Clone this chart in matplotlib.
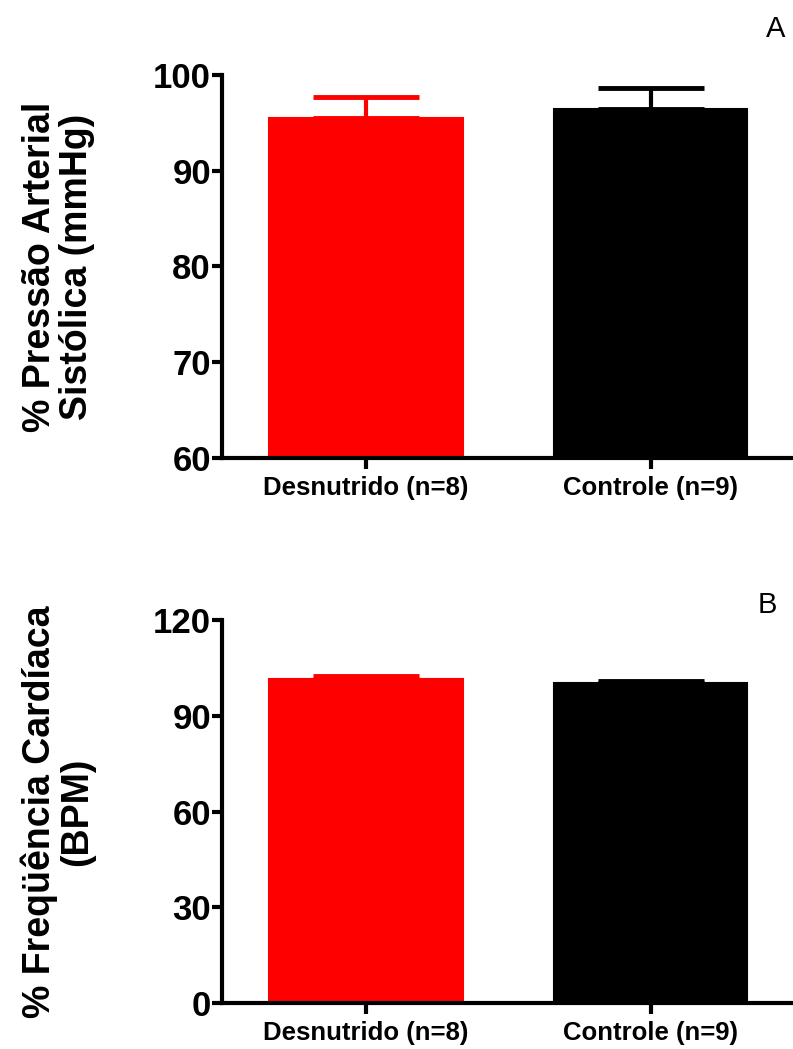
import matplotlib
matplotlib.use("Agg")
import matplotlib.pyplot as plt

plt.rcParams['font.family'] = ['Liberation Sans', 'DejaVu Sans']

groups = ['Desnutrido (n=8)', 'Controle (n=9)']
colors = ['#ff0000', '#000000']

pas_mean = [95.5, 96.5]
pas_sem = [2.2, 2.1]

fc_mean = [101.5, 100.3]
fc_sem = [1.0, 0.5]


def bar_panel(ax, means, sems, ylim, yticks, ylabel, letter):
    x = list(range(len(groups)))
    for i in x:
        ax.bar(i, means[i], width=0.68, color=colors[i], edgecolor=colors[i],
               linewidth=1.5, bottom=0, zorder=2)
        ax.errorbar(i, means[i], yerr=[[0], [sems[i]]], fmt='none',
                    ecolor=colors[i], elinewidth=3, capsize=38, capthick=3.5,
                    zorder=1)
    ax.set_xlim(-0.505, 1.5)
    ax.set_ylim(*ylim)
    ax.set_yticks(yticks)
    ax.set_xticks(x, groups)
    ax.tick_params(axis='y', labelsize=25, width=3, length=7, pad=1)
    ax.tick_params(axis='x', width=3, length=8, pad=5)
    for t in ax.get_yticklabels():
        t.set_fontweight('bold')
    for t in ax.get_xticklabels():
        t.set_fontweight('bold')
        t.set_fontsize(18.5)
    for s in ['top', 'right']:
        ax.spines[s].set_visible(False)
    for s in ['left', 'bottom']:
        ax.spines[s].set_linewidth(3)
    ax.set_ylabel(ylabel, fontsize=27, fontweight='bold', linespacing=1.05)
    ax.yaxis.set_label_coords(-0.222, 0.5)
    ax.text(0.97, 1.12, letter, transform=ax.transAxes, fontsize=21,
            ha='center', va='center')


fig = plt.figure(figsize=(7.93, 10.49), dpi=100)
axA = fig.add_axes([0.280, 0.5634, 0.72, 0.3651])
axB = fig.add_axes([0.280, 0.0438, 0.72, 0.3651])

bar_panel(axA, pas_mean, pas_sem, (60, 100), [60, 70, 80, 90, 100],
          '% Pressão Arterial\nSistólica (mmHg)', 'A')
bar_panel(axB, fc_mean, fc_sem, (0, 120), [0, 30, 60, 90, 120],
          '% Freqüência Cardíaca\n(BPM)', 'B')
axB.texts[0].set_position((0.955, 1.04))

fig.savefig('out.png', dpi=100)
